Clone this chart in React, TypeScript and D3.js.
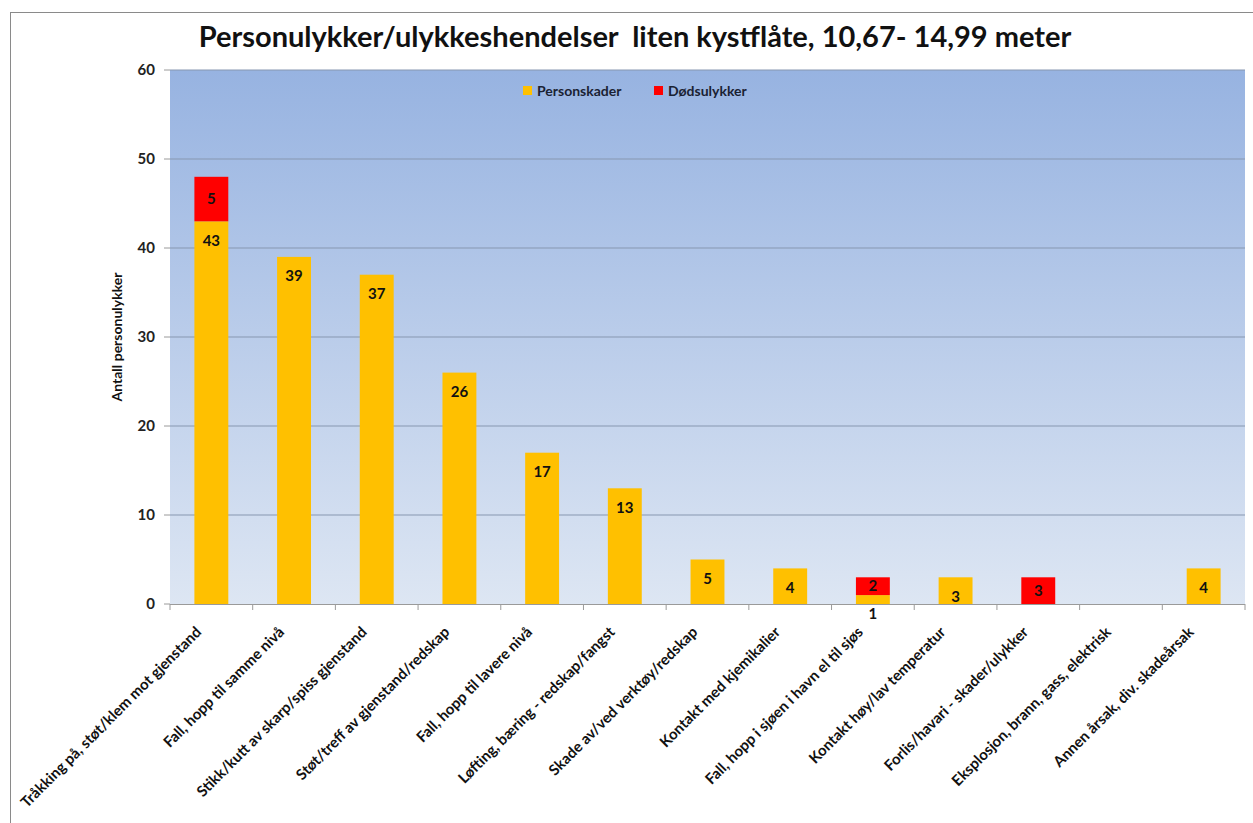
import * as d3 from 'd3';

// Data
const categories = [
  'Tråkking på, støt/klem mot gjenstand',
  'Fall, hopp til samme nivå',
  'Stikk/kutt av skarp/spiss gjenstand',
  'Støt/treff av gjenstand/redskap',
  'Fall, hopp til lavere nivå',
  'Løfting, bæring - redskap/fangst',
  'Skade av/ved verktøy/redskap',
  'Kontakt med kjemikalier',
  'Fall, hopp i sjøen i havn el til sjøs',
  'Kontakt høy/lav temperatur',
  'Forlis/havari - skader/ulykker',
  'Eksplosjon, brann, gass, elektrisk',
  'Annen årsak, div. skadeårsak',
];
const personskader = [43, 39, 37, 26, 17, 13, 5, 4, 1, 3, 0, 0, 4];
const dodsulykker = [5, 0, 0, 0, 0, 0, 0, 0, 2, 0, 3, 0, 0];
const yTicks = [0, 10, 20, 30, 40, 50, 60];

const title = 'Personulykker/ulykkeshendelser  liten kystflåte, 10,67- 14,99 meter';
const seriesNames = ['Personskader', 'Dødsulykker'];
const seriesColors = ['#FFC000', '#FF0000'];

const W = 1253;
const H = 823;
const margin = { top: 70, right: 8, bottom: 219, left: 170 };
const FONT = 'Lato, "Open Sans", sans-serif';

export default function App() {
  const innerW = W - margin.left - margin.right;
  const innerH = H - margin.top - margin.bottom;

  const x = d3.scaleBand().domain(categories).range([0, innerW]).paddingInner(0.59).paddingOuter(0.295);
  const y = d3.scaleLinear().domain([0, 60]).range([innerH, 0]);

  const step = x.step();
  const bw = x.bandwidth();
  const cx = (c) => (x(c) ?? 0) + bw / 2;

  return (
    <svg width={W} height={H} style={{ position: 'absolute', left: 0, top: 0, background: '#fff' }}>
      <defs>
        <linearGradient id="bg" x1="0" y1="0" x2="0" y2="1">
          <stop offset="0%" stopColor="#97B3E1" />
          <stop offset="100%" stopColor="#DDE6F3" />
        </linearGradient>
      </defs>
      <rect x={10.5} y={12.5} width={W} height={H} fill="#fff" stroke="#8a8a8a" />
      <text x={635} y={47} textAnchor="middle" fontFamily={FONT} fontWeight="bold" fontSize={29} fill="#111" style={{ whiteSpace: 'pre' }}>
        {title}
      </text>
      <g transform={`translate(${margin.left},${margin.top})`}>
        <rect width={innerW} height={innerH} fill="url(#bg)" />
        {yTicks.slice(1).map((t) => (
          <line key={t} x1={0} x2={innerW} y1={y(t)} y2={y(t)} stroke="#8797b0" strokeWidth={1} />
        ))}
        {yTicks.map((t) => (
          <g key={t} transform={`translate(0,${y(t)})`}>
            <line x1={-6} x2={0} stroke="#9a9a9a" />
            <text x={-15} dy="0.35em" textAnchor="end" fontFamily={FONT} fontWeight="bold" fontSize={15} fill="#222">
              {t}
            </text>
          </g>
        ))}
        <text
          transform={`translate(${-48},${innerH / 2}) rotate(-90)`}
          textAnchor="middle"
          fontFamily={FONT}
          fontWeight="bold"
          fontSize={14}
          fill="#111"
        >
          Antall personulykker
        </text>

        {categories.map((c, i) => {
          const p = personskader[i];
          const d = dodsulykker[i];
          return (
            <g key={c}>
              {p > 0 && <rect x={x(c)} y={y(p)} width={bw} height={y(0) - y(p)} fill={seriesColors[0]} />}
              {d > 0 && <rect x={x(c)} y={y(p + d)} width={bw} height={y(p) - y(p + d)} fill={seriesColors[1]} />}
              {p > 0 && (
                <text x={cx(c)} y={y(p) + 19} dy="0.35em" textAnchor="middle" fontFamily={FONT} fontWeight="bold" fontSize={15} fill="#111">
                  {p}
                </text>
              )}
              {d > 0 && (
                <text x={cx(c)} y={(y(p) + y(p + d)) / 2} dy="0.35em" textAnchor="middle" fontFamily={FONT} fontWeight="bold" fontSize={15} fill="#111">
                  {d}
                </text>
              )}
            </g>
          );
        })}

        <line x1={0} x2={innerW} y1={innerH + 0.5} y2={innerH + 0.5} stroke="#9a9a9a" />
        {d3.range(categories.length + 1).map((i) => (
          <line key={i} x1={i * step} x2={i * step} y1={innerH} y2={innerH + 6} stroke="#9a9a9a" />
        ))}
        {categories.map((c) => (
          <text
            key={c}
            transform={`translate(${cx(c) - 9},${innerH + 29}) rotate(-45)`}
            textAnchor="end"
            fontFamily={FONT}
            fontWeight="bold"
            fontSize={15}
            fill="#111"
          >
            {c}
          </text>
        ))}

        {/* legend */}
        <g transform={`translate(${523 - margin.left},${86 - margin.top})`}>
          {seriesNames.map((s, i) => (
            <g key={s} transform={`translate(${i * 131},0)`}>
              <rect width={9} height={9} fill={seriesColors[i]} />
              <text x={14} y={5} dy="0.35em" fontFamily={FONT} fontWeight="bold" fontSize={14} fill="#1a2233">
                {s}
              </text>
            </g>
          ))}
        </g>
      </g>
    </svg>
  );
}
